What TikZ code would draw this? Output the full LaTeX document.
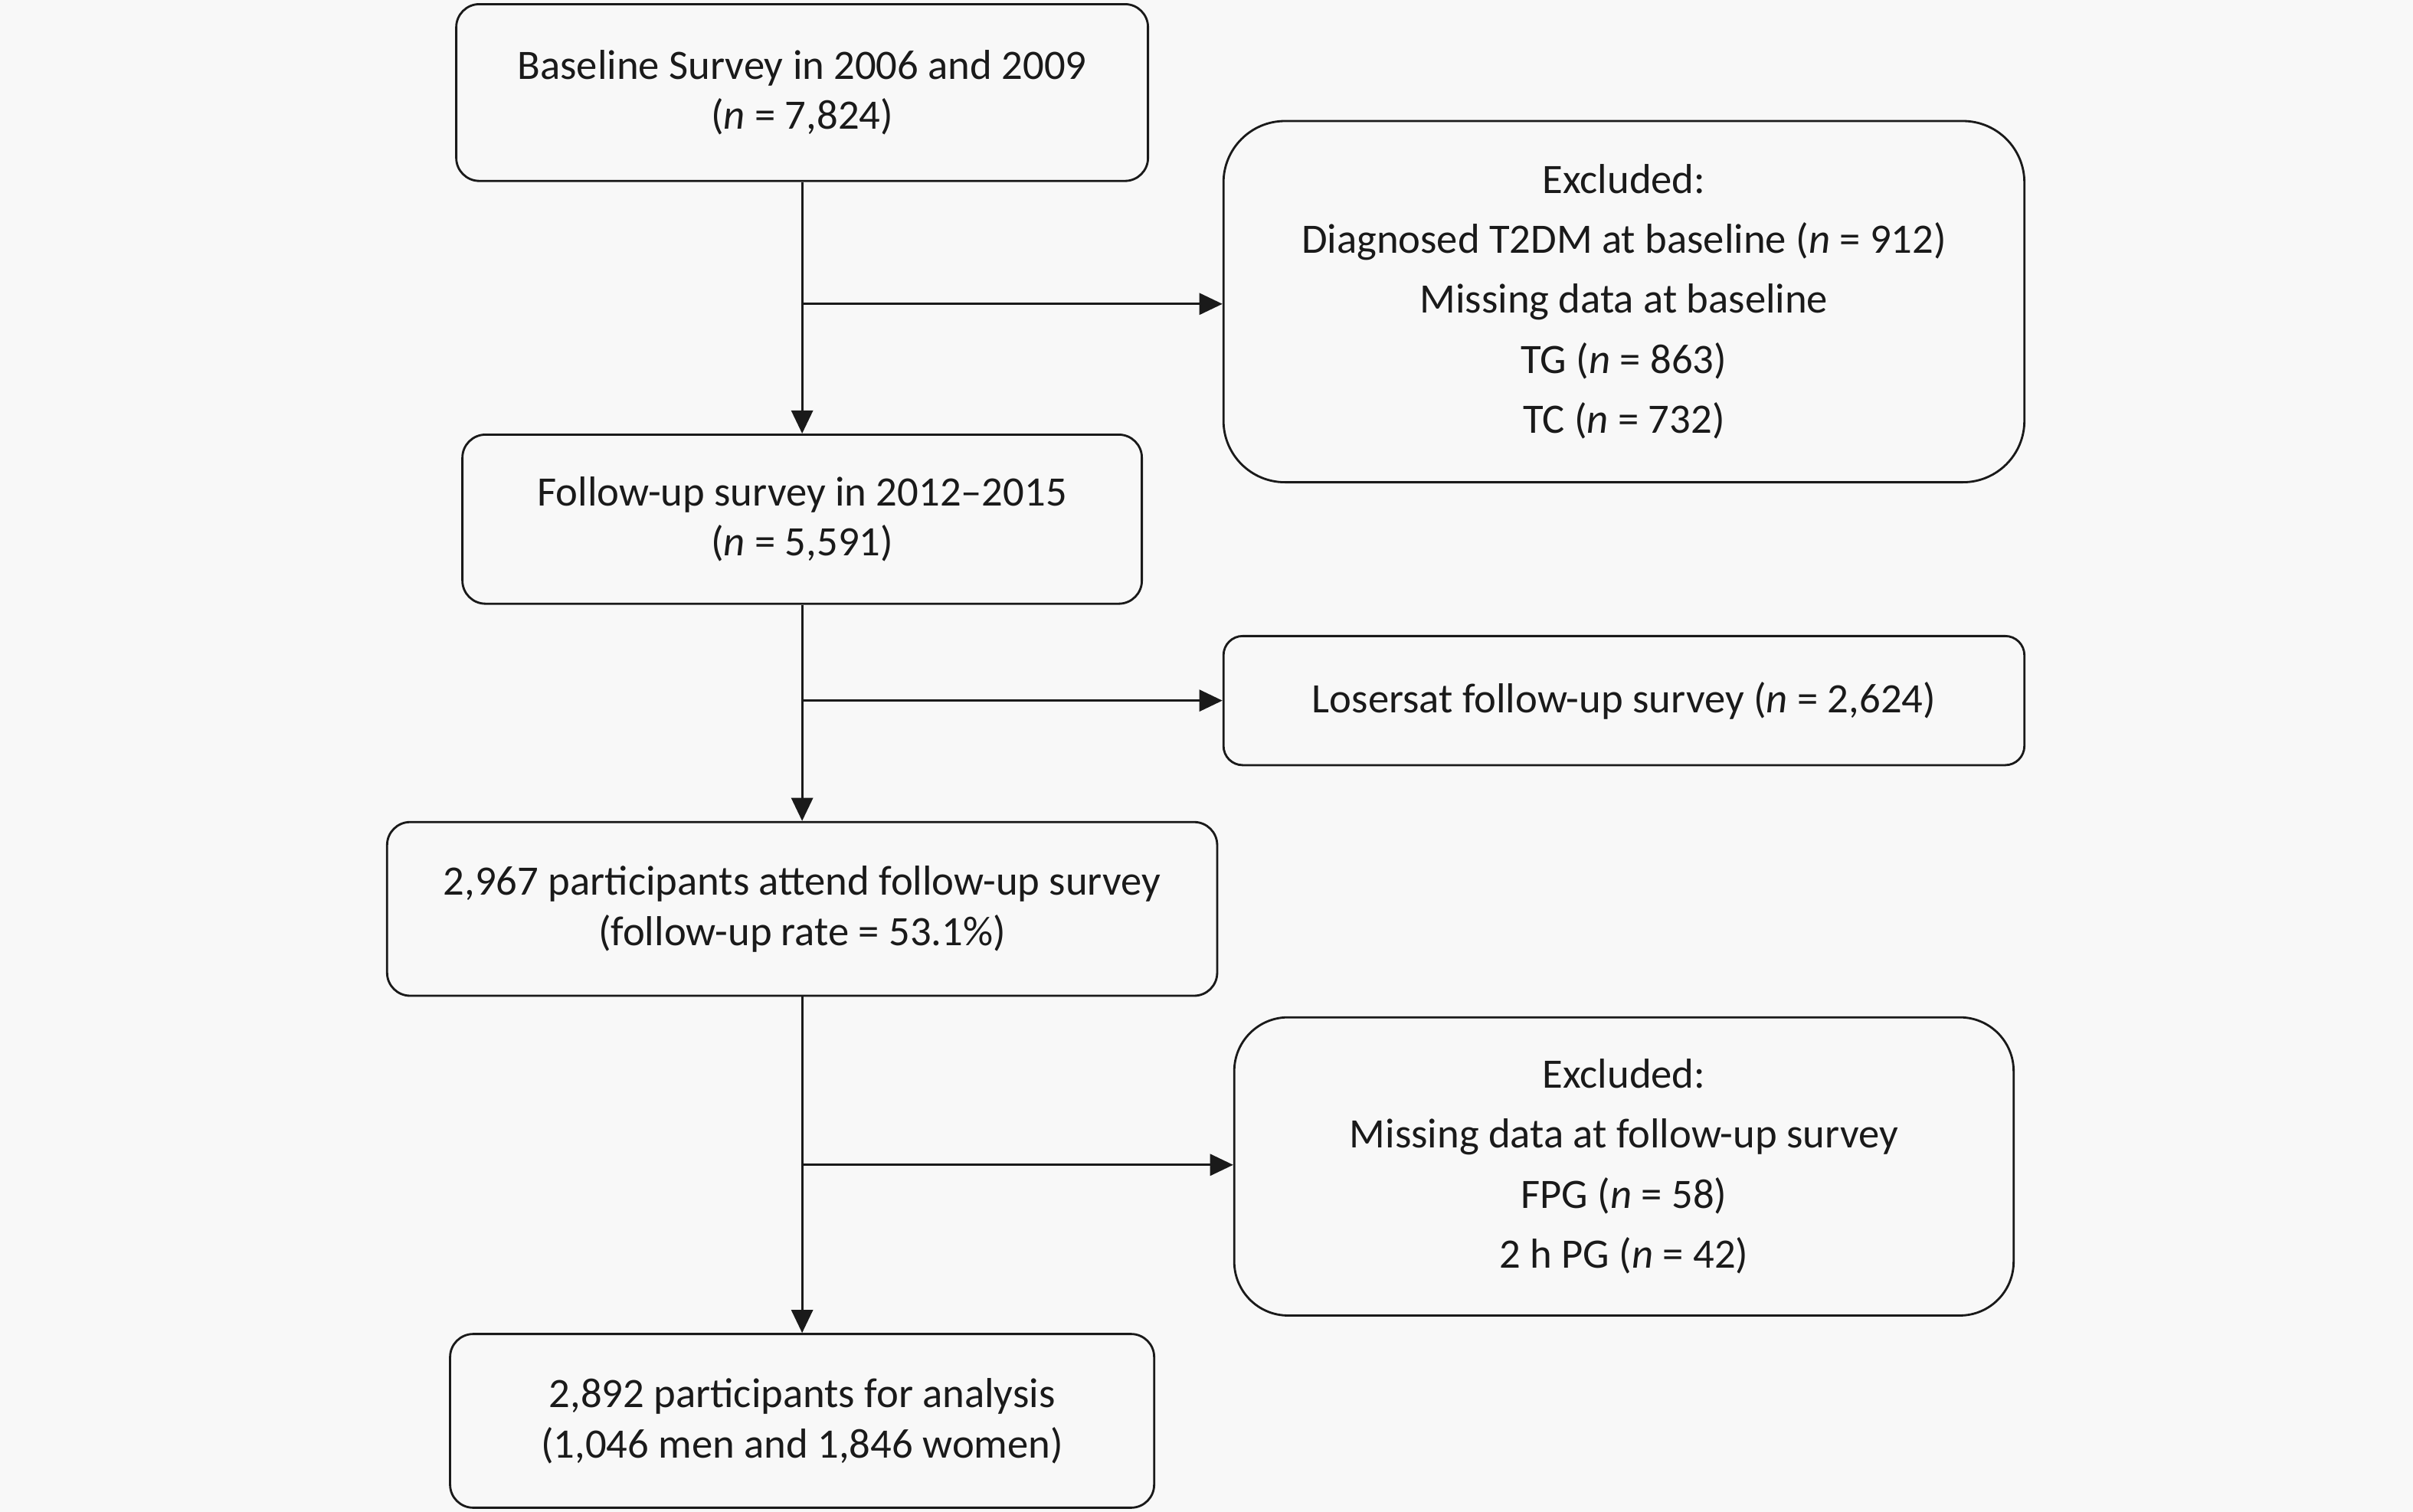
\documentclass[tikz,border=0pt]{standalone}
\usepackage{fontspec}
\setmainfont{Carlito}
\usepackage{tikz}
\usetikzlibrary{positioning, arrows.meta}
\definecolor{bgcol}{HTML}{F8F8F8}
\definecolor{inkcol}{HTML}{1A1A1A}
\tikzset{
  >={Triangle[length=0.3cm,width=0.28cm]}, % solid triangle heads
  every path/.style={line width=0.8pt, draw=inkcol},
  stepbox/.style={draw, fill=bgcol, rounded corners=0.3cm, align=center,
    text=inkcol, inner sep=0pt, font=\fontsize{15.5}{18.7}\selectfont}, % main column boxes
  exclbox/.style={stepbox, rounded corners=0.8cm,
    font=\fontsize{15.5}{22.2}\selectfont}, % excluded boxes on the right
}

\begin{document}
\begin{tikzpicture}[x=0.02cm, y=-0.02cm]
      \fill[bgcol] (0,0) rectangle (1568,982);

      \node[stepbox, minimum width=9cm, minimum height=2.3cm] (base) at (521,59.5)
        {Baseline Survey in 2006 and 2009\\(\textit{n} = 7,824)};
      \node[exclbox, minimum width=10.42cm, minimum height=4.7cm] (ex1) at (1055.5,195.5)
        {Excluded:\\Diagnosed T2DM at baseline (\textit{n} = 912)\\Missing data at baseline\\TG (\textit{n} = 863)\\TC (\textit{n} = 732)};
      \node[stepbox, minimum width=8.84cm, minimum height=2.2cm] (fu) at (521,337)
        {Follow-up survey in 2012--2015\\(\textit{n} = 5,591)};
      \node[stepbox, rounded corners=0.25cm, minimum width=10.42cm, minimum height=1.68cm] (lost) at (1055.5,455)
        {Losersat follow-up survey (\textit{n} = 2,624)};
      \node[stepbox, minimum width=10.8cm, minimum height=2.26cm] (att) at (521,590.5)
        {2,967 participants attend follow-up survey\\(follow-up rate = 53.1\%)};
      \node[exclbox, rounded corners=0.7cm, minimum width=10.14cm, minimum height=3.88cm] (ex2) at (1055.5,758)
        {Excluded:\\Missing data at follow-up survey\\FPG (\textit{n} = 58)\\2 h PG (\textit{n} = 42)};
      \node[stepbox, minimum width=9.16cm, minimum height=2.26cm] (ana) at (521,923.5)
        {2,892 participants for analysis\\(1,046 men and 1,846 women)};

      % branch points on the main line
      \coordinate (j1) at (521,197);
      \coordinate (j2) at (521,455);
      \coordinate (j3) at (521,757);

      \draw[->] (base) -- (fu);
      \draw[->] (fu) -- (att);
      \draw[->] (att) -- (ana);
      \draw[->] (j1) -- (j1 -| ex1.west);
      \draw[->] (j2) -- (j2 -| lost.west);
      \draw[->] (j3) -- (j3 -| ex2.west);
\end{tikzpicture}
\end{document}
